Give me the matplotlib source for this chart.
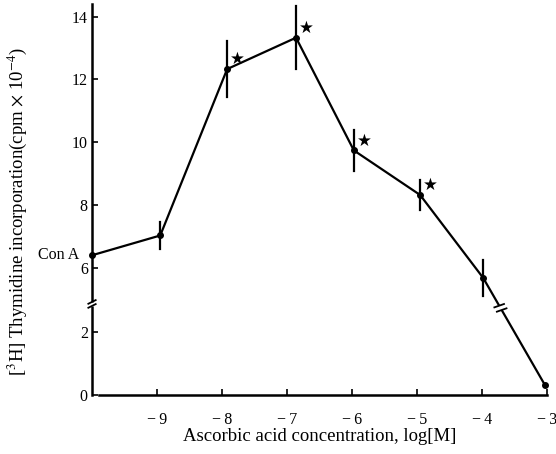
import numpy as np
import matplotlib
matplotlib.use("Agg")
import matplotlib.pyplot as plt

# ### данные
log_conc = [-10.0, -8.95, -7.92, -6.86, -5.97, -4.95, -3.98, -3.03]
incorp   = [6.4, 7.03, 12.33, 13.33, 9.74, 8.32, 5.68, 0.32]
err      = [0.0, 0.42, 0.9, 1.0, 0.65, 0.48, 0.57, 0.0]
starred  = [2, 3, 4, 5]   # индексы точек со звёздочкой

x_ticks  = [-9, -8, -7, -6, -5, -4, -3]
y_ticks  = [0, 2, 6, 8, 10, 12, 14]

# разрыв оси: между 3 и 5 почти ничего
BRK_LO, BRK_HI, SQ = 3.0, 5.0, 0.025


def fwd(v):
    v = np.asarray(v, dtype=float)
    mid = BRK_LO + (v - BRK_LO) * SQ
    top = v - (BRK_HI - BRK_LO) * (1 - SQ)
    return np.where(v <= BRK_LO, v, np.where(v >= BRK_HI, top, mid))


def inv(t):
    t = np.asarray(t, dtype=float)
    t_hi = BRK_LO + (BRK_HI - BRK_LO) * SQ
    mid = BRK_LO + (t - BRK_LO) / SQ
    top = t + (BRK_HI - BRK_LO) * (1 - SQ)
    return np.where(t <= BRK_LO, t, np.where(t >= t_hi, top, mid))


plt.rcParams['font.family'] = ['Liberation Serif', 'DejaVu Serif']
plt.rcParams['mathtext.fontset'] = 'stix'

fig = plt.figure(figsize=(5.56, 4.54), dpi=100)
ax = fig.add_axes([0.1655, 0.130, 0.818, 0.861])
ax.set_yscale('function', functions=(fwd, inv))
ax.set_xlim(-10, -3)
ax.set_ylim(0, 14.4)

LW = 1.6
ax.plot(log_conc, incorp, color='black', lw=LW, marker='o', ms=4,
        clip_on=False, zorder=3)
for x, y, e in zip(log_conc, incorp, err):
    if e > 0:
        ax.plot([x, x], [y - e, y + e], color='black', lw=LW, zorder=3)

for i in starred:
    ax.annotate('★', xy=(log_conc[i], incorp[i]), xytext=(7.5, 7),
                textcoords='offset points', ha='center', va='center',
                fontsize=12, family='DejaVu Sans')

ax.annotate('Con A', xy=(log_conc[0], incorp[0]), xytext=(-9, 0),
            textcoords='offset points', ha='right', va='center', fontsize=11.5)

# оси
for s in ['top', 'right']:
    ax.spines[s].set_visible(False)
ax.spines['left'].set_linewidth(LW + 0.2)
ax.spines['bottom'].set_linewidth(LW + 0.2)
ax.spines['bottom'].set_bounds(-9.9, -3)

ax.set_xticks(x_ticks)
ax.set_xticklabels(['\u2212\u2009' + str(abs(t)) for t in x_ticks])
ax.set_yticks(y_ticks)
ax.set_yticklabels([str(t) for t in y_ticks])
ax.tick_params(axis='x', direction='in', length=4, width=1.2, pad=12, labelsize=11.5)
ax.tick_params(axis='y', direction='in', length=4, width=1.2, pad=3, labelsize=11.5)
ax.minorticks_off()

ax.set_xlabel('Ascorbic acid concentration, log[M]', fontsize=13.5, va='center')
ax.xaxis.set_label_coords(0.5, -0.107)
ax.set_ylabel('[$^3$H] Thymidine incorporation(cpm $\\times$ 10$^{-4}$)',
              fontsize=13.5, va='center')
ax.yaxis.set_label_coords(-0.165, 0.47)

# значки разрыва (в пикселях -> данные)
px_x = fig.dpi * 5.56 * 0.818 / 7.0
px_y = fig.dpi * 4.54 * 0.861 / float(fwd(14.4))


def brk_mark(x0, t0, dx, dy, ux, uy, gap=2.5, half=5):
    # dx,dy - направление линии, ux,uy - направление штриха (пиксели)
    n = np.hypot(dx, dy)
    dx, dy = dx / n, dy / n
    m = np.hypot(ux, uy)
    ux, uy = ux / m, uy / m
    for s in (-gap, gap):
        cx, cy = s * dx, s * dy
        xs = [x0 + (cx - half * ux) / px_x, x0 + (cx + half * ux) / px_x]
        ts = [t0 + (cy - half * uy) / px_y, t0 + (cy + half * uy) / px_y]
        ax.plot(xs, inv(ts), color='black', lw=1.3, clip_on=False, zorder=6,
                solid_capstyle='butt')
    xs = [x0 - gap * dx / px_x, x0 + gap * dx / px_x]
    ts = [t0 - gap * dy / px_y, t0 + gap * dy / px_y]
    ax.plot(xs, inv(ts), color='white', lw=5, clip_on=False, zorder=5,
            solid_capstyle='butt')


# на оси y
brk_mark(-10.0, 2.9, 0, 1, 1.6, 0.8, gap=2.0, half=5)
# на линии между -4 и -3
t_a, t_b = fwd(incorp[-2]), fwd(incorp[-1])
f = 0.28
xm = log_conc[-2] + f * (log_conc[-1] - log_conc[-2])
tm = float(t_a + f * (t_b - t_a))
ddx = (log_conc[-1] - log_conc[-2]) * px_x
ddy = float(t_b - t_a) * px_y
brk_mark(xm, tm, ddx, ddy, 1.0, 0.35, gap=2.5, half=6)

fig.savefig('out.png', dpi=100)
